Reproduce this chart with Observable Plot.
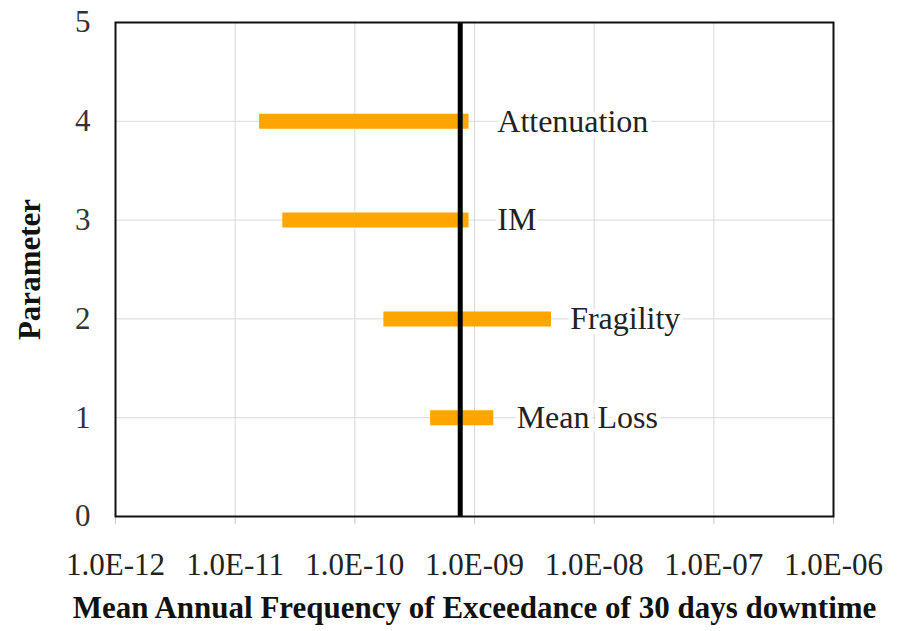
<!DOCTYPE html>
<html>
<head>
<meta charset="utf-8">
<script src="https://cdn.jsdelivr.net/npm/d3@7"></script>
<script src="https://cdn.jsdelivr.net/npm/@observablehq/plot@0.6"></script>
<style>
  html, body { margin: 0; padding: 0; background: white; }
</style>
</head>
<body>
<div id="chart"></div>
<script>
// Parameters (y position) and their ranges of mean annual frequency
const params = ["Mean Loss", "Fragility", "IM", "Attenuation"];
const yPos = [1, 2, 3, 4];
const lower = [4.3e-10, 1.75e-10, 2.5e-11, 1.6e-11];
const upper = [1.45e-9, 4.4e-9, 9.0e-10, 9.0e-10];
const labelX = [2.25e-9, 6.3e-9, 1.55e-9, 1.55e-9];
const baseline = 7.6e-10;
const xTicks = [1e-12, 1e-11, 1e-10, 1e-9, 1e-8, 1e-7, 1e-6];
const yTicks = [0, 1, 2, 3, 4, 5];
const xTitle = "Mean Annual Frequency of Exceedance of 30 days downtime";
const yTitle = "Parameter";

const data = params.map((p, i) => ({name: p, y: yPos[i], lo: lower[i], hi: upper[i], lx: labelX[i]}));

const fmt = d => {
  const e = Math.round(Math.log10(d));
  return "1.0E" + (e < 0 ? "-" : "+") + String(Math.abs(e)).padStart(2, "0");
};

const chart = Plot.plot({
  width: 903,
  height: 631,
  marginLeft: 115,
  marginRight: 70,
  marginTop: 22,
  marginBottom: 115,
  x: {type: "log", domain: [1e-12, 1e-6]},
  y: {domain: [0, 5]},
  style: {fontFamily: "'Liberation Serif', 'Times New Roman', serif", background: "white"},
  marks: [
    Plot.gridX(xTicks, {stroke: "#d9d9d9", strokeOpacity: 1}),
    Plot.gridY(yTicks, {stroke: "#d9d9d9", strokeOpacity: 1}),
    Plot.axisX(xTicks, {tickSize: 8, tickPadding: 28, tickFormat: fmt, fontSize: 31, stroke: "#c8c8c8", fill: "#222", label: null}),
    Plot.axisY(yTicks, {tickSize: 0, tickPadding: 25, tickFormat: d => String(d), fontSize: 31, fill: "#333", label: null}),
    Plot.ruleY(data, {y: "y", x1: "lo", x2: "hi", stroke: "#ffa500", strokeWidth: 15}),
    Plot.ruleX([baseline], {y1: 0, y2: 5, stroke: "#000", strokeWidth: 5}),
    Plot.text(data, {x: "lx", y: "y", text: "name", textAnchor: "start", fontSize: 32, fill: "#222",
      stroke: "white", strokeWidth: 10, paintOrder: "stroke", strokeLinejoin: "round"}),
    Plot.frame({stroke: "#111", strokeWidth: 2}),
    Plot.text([xTitle], {frameAnchor: "bottom", dy: 101, textAnchor: "middle", fontWeight: "bold", fontSize: 31, fill: "#111"}),
    Plot.text([yTitle], {frameAnchor: "left", dx: -85, rotate: -90, textAnchor: "middle", fontWeight: "bold", fontSize: 31, fill: "#111"})
  ]
});
document.getElementById("chart").appendChild(chart);
</script>
</body>
</html>
